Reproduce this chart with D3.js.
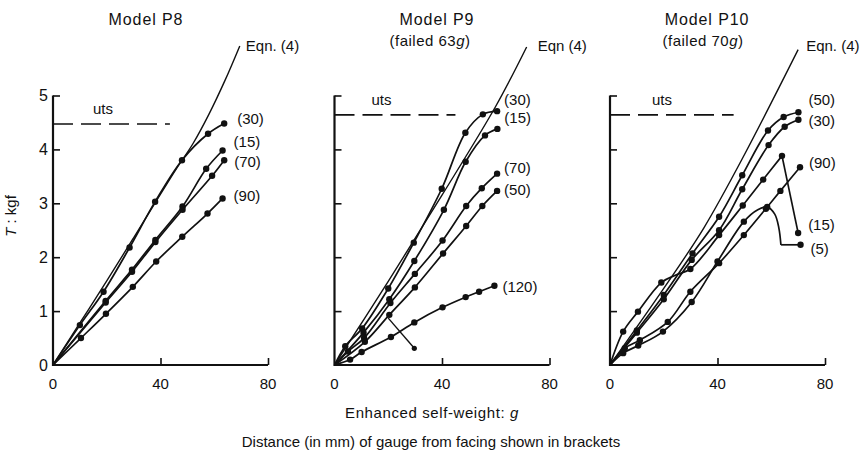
<!DOCTYPE html>
<html><head><meta charset="utf-8">
<script src="https://cdn.jsdelivr.net/npm/d3@7"></script>
<style>
body{margin:0;background:#fff}
svg{display:block}
text{font-family:"Liberation Sans",Arial,Helvetica,sans-serif;fill:#111}
</style>
</head><body>
<svg id="c" width="868" height="457"></svg>
<script>
// ---------- DATA ----------
const xTicks = [0, 40, 80];
const yTicks = [0, 1, 2, 3, 4, 5];
const panelTitles = ["Model P8", "Model P9", "Model P10"];
const panelFailed = [null, "63", "70"];
const utsLevels = [4.47, 4.64, 4.64];
const utsEnds = [43.5, 45, 46];
const eqnLabels = ["Eqn. (4)", "Eqn (4)", "Eqn. (4)"];
const xTitle = "Enhanced self-weight: ";
const footNote = "Distance (in mm) of gauge from facing shown in brackets";

// Eqn (4) curves [g, T]
const p8Eqn  = [[0,0],[10,0.78],[20,1.56],[30,2.36],[40,3.17],[46,3.65],[52,4.1],[58,4.65],[64,5.28],[69.5,5.92]];
const p9Eqn  = [[0,0],[20,1.55],[40,3.15],[60,4.8],[71.5,5.9]];
const p10Eqn = [[0,0],[20,1.42],[35,2.55],[50,3.9],[70,5.85]];

// Model P8 gauges  (third value 0 = no marker)
const p8_30 = [[0,0,0],[10,0.74],[18.8,1.36],[28.5,2.18],[38,3.03],[48,3.8],[57.7,4.29],[63.7,4.48]];
const p8_15 = [[0,0,0],[19.6,1.19],[29.4,1.77],[38.1,2.32],[48.2,2.94],[57,3.64],[63.1,3.98]];
const p8_70 = [[0,0,0],[19.6,1.16],[29.4,1.73],[38.1,2.28],[48.2,2.88],[59.2,3.51],[63.7,3.8]];
const p8_90 = [[0,0,0],[10.4,0.5],[19.7,0.95],[29.7,1.45],[38.4,1.92],[48.1,2.38],[57.5,2.81],[63.1,3.09]];

// Model P9 gauges
const p9_30  = [[0,0,0],[4,0.35],[10.3,0.68],[20,1.42],[29.5,2.27],[39.9,3.27],[48.7,4.31],[55.2,4.65],[60.5,4.71]];
const p9_15  = [[0,0,0],[10.8,0.6],[20.4,1.22],[29.7,1.93],[40.7,2.88],[48.8,3.77],[56,4.26],[60.6,4.38]];
const p9_70  = [[0,0,0],[5,0.25],[11,0.5],[20.8,1.15],[29.9,1.69],[40.2,2.31],[49,2.95],[54.8,3.28],[60.5,3.55]];
const p9_50  = [[0,0,0],[11.3,0.43],[20.4,0.93],[29.9,1.44],[40.4,2.07],[49,2.58],[55,2.95],[60.5,3.23]];
const p9_120 = [[0,0,0],[5.8,0.1],[10.1,0.24],[21,0.52],[29.7,0.79],[40.2,1.07],[48.8,1.26],[53.8,1.36],[59.5,1.47]];
const p9Leader = [[20,0.87],[29.7,0.31]];

// Model P10 gauges
const p10_50 = [[0,0,0],[10,0.64],[20,1.3],[30.7,2.07],[40.6,2.75],[49.2,3.52],[58.8,4.35],[64.6,4.6],[70.1,4.69]];
const p10_30 = [[0,0,0],[10,0.6],[20,1.22],[30.4,1.95],[40.6,2.5],[49.2,3.26],[59,4.08],[65,4.42],[70.1,4.55]];
const p10_15 = [[0,0,0],[4.9,0.62],[10.4,0.99],[19.1,1.53],[24.5,1.67,0],[29.9,1.78],[40.6,2.41],[49.4,2.96],[57,3.44],[64,3.88]];
const p10_15drop = [[64,3.88],[70,2.45]];
const p10_90 = [[0,0,0],[5.5,0.31],[11.1,0.46],[21.5,0.8],[29.9,1.36],[40.6,1.89],[49.8,2.41],[58,2.9],[63.4,3.23],[70.7,3.67]];
const p10_5  = [[0,0,0],[4.9,0.22],[10.5,0.36],[19.7,0.62],[30.4,1.17],[40,1.92],[49.8,2.66],[55,2.88,0],[58.5,2.93],[61.3,2.8,0],[62.8,2.55,0],[63.6,2.23,0]];
const p10_5flat = [[63.6,2.23],[70.9,2.23]];

const panels = [
  {eqn: p8Eqn, series: [
    {label:"(30)", pts:p8_30}, {label:"(15)", pts:p8_15}, {label:"(70)", pts:p8_70}, {label:"(90)", pts:p8_90}]},
  {eqn: p9Eqn, series: [
    {label:"(30)", pts:p9_30}, {label:"(15)", pts:p9_15}, {label:"(70)", pts:p9_70}, {label:"(50)", pts:p9_50}, {label:"(120)", pts:p9_120}]},
  {eqn: p10Eqn, series: [
    {label:"(50)", pts:p10_50}, {label:"(30)", pts:p10_30}, {label:"(90)", pts:p10_90},
    {label:"(15)", pts:p10_15, tail:p10_15drop}, {label:"(5)", pts:p10_5, tail:p10_5flat}]}
];

// ---------- LAYOUT (positions & styles) ----------
const panelX0 = [53, 334.5, 610];
const panelW = 215;
const yBottom = 365, yTop = 95.5;
const titleCx = [146, 437, 707];
const subCx = [146, 430, 703];
const labelOffsets = [
  [[13,-5],[11,-8],[10,2],[11,-2]],
  [[7,-11],[7,-11],[7,-6],[7,-1],[8,1]],
  [[10,-12],[10,1],[9,-4],[10,-8],[10,4]]
];
const eqnOffsets = [[6,0],[11,-1],[8,-4]];
const titleY = 25, subY = 46;

const svg = d3.select("#c");
const y = d3.scaleLinear().domain([0,5]).range([yBottom, yTop]);

panels.forEach((p, i) => {
  const x = d3.scaleLinear().domain([0,80]).range([panelX0[i], panelX0[i] + panelW]);
  const g = svg.append("g");

  // titles
  g.append("text").attr("x", titleCx[i]).attr("y", titleY).attr("text-anchor","middle")
    .attr("font-size", 16).attr("letter-spacing", 0.9).text(panelTitles[i]);
  if (panelFailed[i]) {
    const t = g.append("text").attr("x", subCx[i]).attr("y", subY).attr("text-anchor","middle")
      .attr("font-size", 15).attr("letter-spacing", 0.5);
    t.append("tspan").text("(failed " + panelFailed[i]);
    t.append("tspan").attr("font-style","italic").text("g");
    t.append("tspan").text(")");
  }

  // axes
  const xAxis = d3.axisTop(x).tickValues(xTicks.slice(1)).tickSize(7).tickFormat("");
  g.append("g").attr("transform", `translate(0,${yBottom})`).call(xAxis)
    .call(s => s.select(".domain").remove())
    .call(s => s.selectAll("line").attr("stroke","#111").attr("stroke-width",1.6));
  g.append("line").attr("x1", x(0)).attr("x2", x(80)).attr("y1", yBottom).attr("y2", yBottom)
    .attr("stroke","#111").attr("stroke-width",2.2);
  const yAxis = d3.axisRight(y).tickValues(yTicks.slice(1)).tickSize(7).tickFormat("");
  g.append("g").attr("transform", `translate(${x(0)},0)`).call(yAxis)
    .call(s => s.select(".domain").remove())
    .call(s => s.selectAll("line").attr("stroke","#111").attr("stroke-width",1.6));
  g.append("line").attr("x1", x(0)).attr("x2", x(0)).attr("y1", yBottom + 1).attr("y2", y(5))
    .attr("stroke","#111").attr("stroke-width",2.2);

  // x tick labels
  xTicks.forEach(v => {
    g.append("text").attr("x", x(v)).attr("y", 389).attr("text-anchor","middle")
      .attr("font-size", 15).text(v);
  });
  // y tick labels (first panel only)
  if (i === 0) {
    yTicks.forEach(v => {
      g.append("text").attr("x", x(0) - 5).attr("y", y(v) + 5.5).attr("text-anchor","end")
        .attr("font-size", 16).text(v);
    });
  }

  // uts
  g.append("line").attr("x1", x(0)).attr("x2", x(utsEnds[i]))
    .attr("y1", y(utsLevels[i])).attr("y2", y(utsLevels[i]))
    .attr("stroke","#111").attr("stroke-width",1.6).attr("stroke-dasharray","20,8");
  g.append("text").attr("x", x(0) + 40 + (i===0?0:(i===1?-3:2))).attr("y", y(utsLevels[i]) - 10)
    .attr("font-size", 15).text("uts");

  // eqn
  const eqLine = d3.line().x(d => x(d[0])).y(d => y(d[1])).curve(d3.curveCatmullRom.alpha(0.5));
  g.append("path").attr("d", eqLine(p.eqn)).attr("fill","none").attr("stroke","#111").attr("stroke-width",1.4);
  const eEnd = p.eqn[p.eqn.length-1];
  g.append("text").attr("x", x(eEnd[0]) + eqnOffsets[i][0]).attr("y", y(eEnd[1]) + eqnOffsets[i][1] + 5)
    .attr("font-size", 15).text(eqnLabels[i]);

  // series
  const line = d3.line().x(d => x(d[0])).y(d => y(d[1])).curve(d3.curveCatmullRom.alpha(0.5));
  const lin = d3.line().x(d => x(d[0])).y(d => y(d[1]));
  p.series.forEach((s, k) => {
    g.append("path").attr("d", line(s.pts)).attr("fill","none").attr("stroke","#111").attr("stroke-width",1.7);
    let end = s.pts[s.pts.length-1];
    if (s.tail) {
      g.append("path").attr("d", lin(s.tail)).attr("fill","none").attr("stroke","#111").attr("stroke-width",1.7);
      end = s.tail[s.tail.length-1];
    }
    const marks = s.pts.filter(d => d[2] !== 0).concat(s.tail ? [s.tail[s.tail.length-1]] : []);
    g.selectAll(null).data(marks).enter().append("circle")
      .attr("cx", d => x(d[0])).attr("cy", d => y(d[1])).attr("r", 3.2).attr("fill","#111");
    const off = labelOffsets[i][k];
    g.append("text").attr("x", x(end[0]) + off[0]).attr("y", y(end[1]) + off[1] + 5)
      .attr("font-size", 15).text(s.label);
  });

  if (i === 1) {
    g.append("path").attr("d", lin(p9Leader)).attr("fill","none").attr("stroke","#111").attr("stroke-width",1.4);
    g.append("circle").attr("cx", x(p9Leader[1][0])).attr("cy", y(p9Leader[1][1])).attr("r", 2.6).attr("fill","#111");
  }
});

// y label
const yl = svg.append("text").attr("transform","translate(16,216) rotate(-90)").attr("text-anchor","middle").attr("font-size",15);
yl.append("tspan").attr("font-style","italic").text("T");
yl.append("tspan").text(" : kgf");

// x title
const xt = svg.append("text").attr("x", 432).attr("y", 418).attr("text-anchor","middle")
  .attr("font-size",15).attr("letter-spacing",0.6);
xt.append("tspan").text(xTitle);
xt.append("tspan").attr("font-style","italic").text("g");

svg.append("text").attr("x", 431).attr("y", 447).attr("text-anchor","middle").attr("font-size",15).text(footNote);
</script>
</body></html>
